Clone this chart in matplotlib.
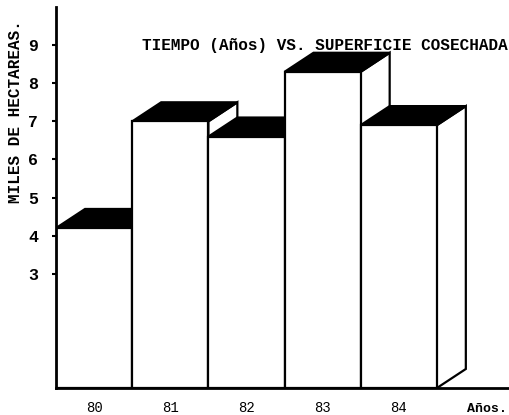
#!/usr/bin/env python3
# superficie_cosechada.py

import matplotlib
matplotlib.use('Agg')
import matplotlib.pyplot as plt
from matplotlib.patches import Polygon, Rectangle

# Datos: superficie cosechada (miles de hectareas) por año
anios = ['80', '81', '82', '83', '84']
superficie = [4.2, 7.0, 6.6, 8.3, 6.9]
ticks_y = [3, 4, 5, 6, 7, 8, 9]

# Profundidad de las barras (perspectiva oblicua)
DX = 0.38
DY = 0.5

FUENTE = 'Liberation Mono'


def main():
    fig = plt.figure(figsize=(5.1, 4.15), dpi=100)
    ax = fig.add_axes([0.11, 0.065, 0.89, 0.918])

    # barras en 3D: cara lateral, tapa negra y frente blanco
    for i, v in enumerate(superficie):
        lado = Polygon([(i + 1, 0), (i + 1 + DX, DY), (i + 1 + DX, v + DY), (i + 1, v)],
                       closed=True, facecolor='white', edgecolor='black', linewidth=1.6)
        tapa = Polygon([(i, v), (i + 1, v), (i + 1 + DX, v + DY), (i + DX, v + DY)],
                       closed=True, facecolor='black', edgecolor='black', linewidth=1.6)
        frente = Rectangle((i, 0), 1, v, facecolor='white', edgecolor='black', linewidth=1.6)
        ax.add_patch(lado)
        ax.add_patch(tapa)
        ax.add_patch(frente)

    ax.set_xlim(0, 5.96)
    ax.set_ylim(0, 10)

    for s in ['top', 'right']:
        ax.spines[s].set_visible(False)
    ax.spines['left'].set_linewidth(2)
    ax.spines['bottom'].set_linewidth(2)

    ax.set_yticks(ticks_y)
    ax.set_yticklabels([str(t) for t in ticks_y], fontfamily=FUENTE, fontsize=12, fontweight='bold')
    ax.tick_params(axis='y', direction='out', length=3, width=1.5, pad=10)

    ax.set_xticks([i + 0.5 for i in range(len(anios))])
    ax.set_xticklabels(anios, fontfamily=FUENTE, fontsize=10)
    ax.tick_params(axis='x', length=0, pad=9)

    ax.text(5.66, -0.55, 'Años.', fontfamily=FUENTE, fontsize=9.5, fontweight='bold',
            ha='center', va='center', clip_on=False)

    ax.text(3.53, 9.0, 'TIEMPO (Años) VS. SUPERFICIE COSECHADA', fontfamily=FUENTE,
            fontsize=11.5, fontweight='bold', ha='center', va='center')

    fig.text(0.03, 0.73, 'MILES DE HECTAREAS.', rotation=90, fontfamily=FUENTE,
             fontsize=11.5, fontweight='bold', ha='center', va='center')

    fig.savefig('out.png', dpi=100, facecolor='white')


if __name__ == '__main__':
    main()
